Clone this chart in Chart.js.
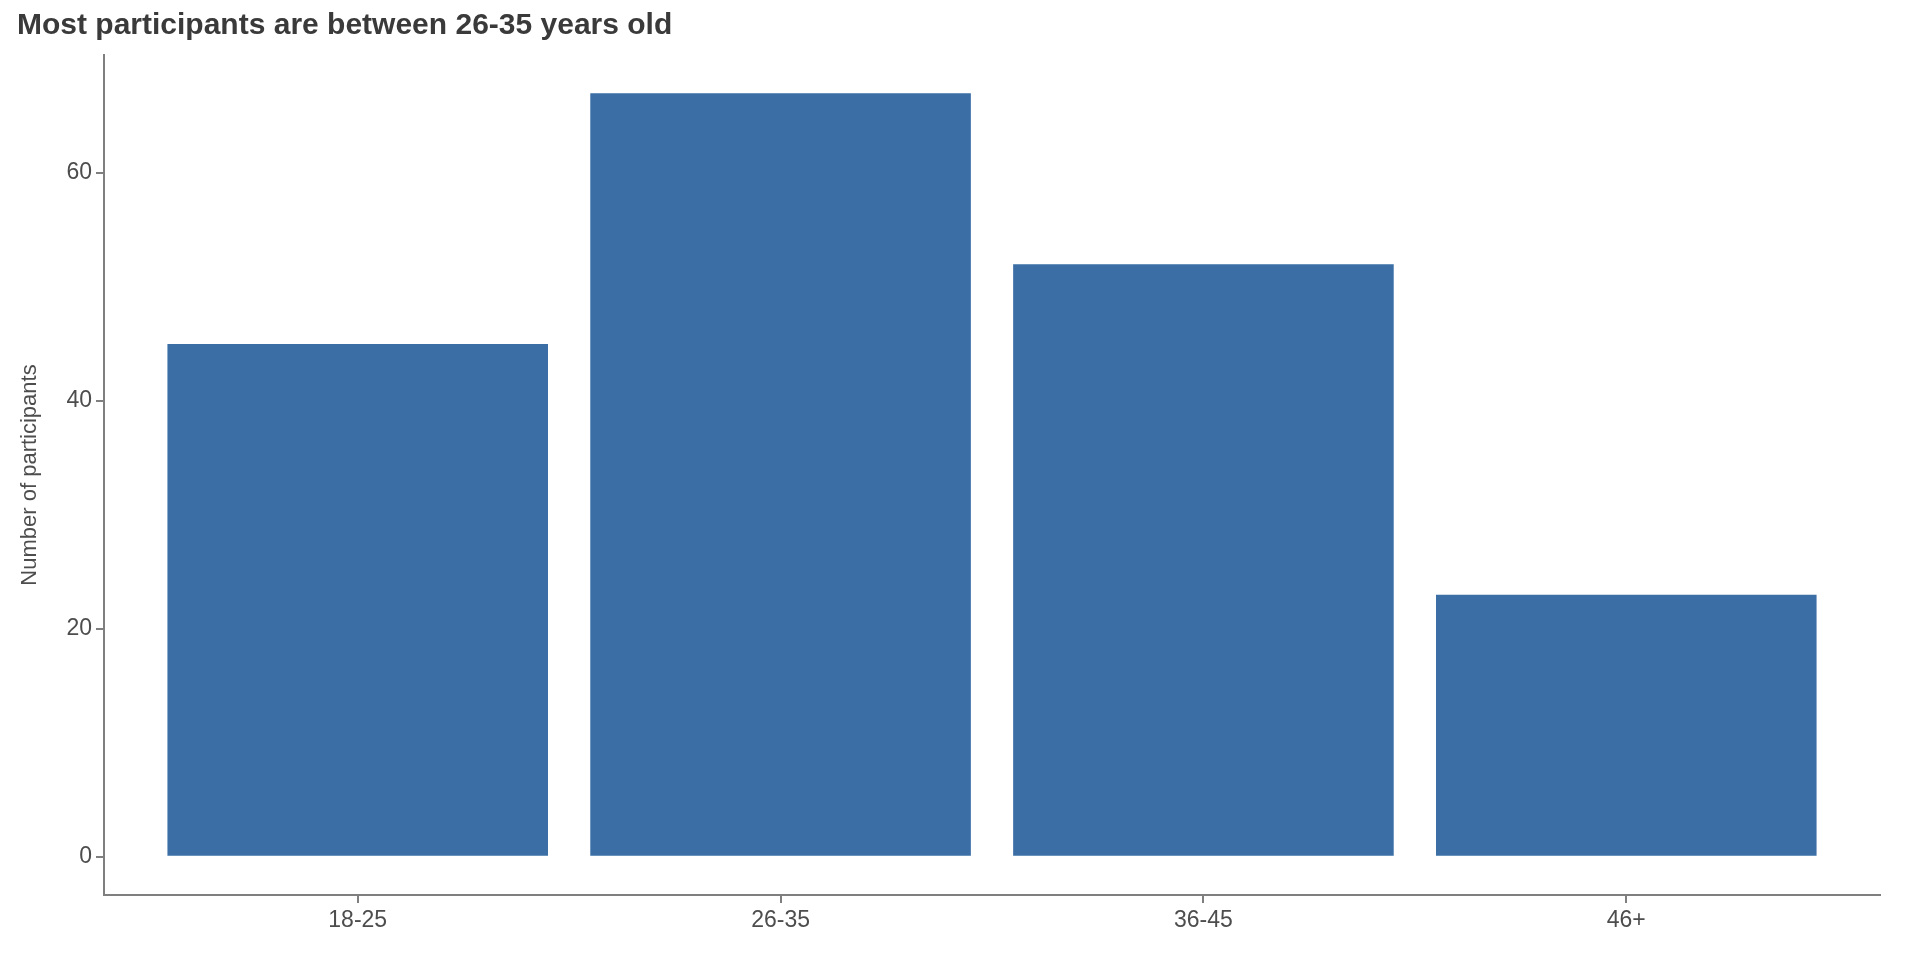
<!DOCTYPE html>
<html><head><meta charset="utf-8">
<script src="https://cdn.jsdelivr.net/npm/chart.js@4"></script>
<style>html,body{margin:0;padding:0;background:#fff}#w{width:1920px;height:960px}</style>
</head><body><div id="w"><canvas id="c"></canvas></div>
<script>
const categories = ["18-25","26-35","36-45","46+"];
const participants = [45,67,52,23];
const yTicks = [0,20,40,60];
const gray = '#7f7f7f';
new Chart(document.getElementById('c'), {
  type: 'bar',
  data: { datasets: [{ data: participants.map((v,i)=>({x:i+1,y:v})), backgroundColor:'#3a6ea5', barPercentage:0.9, categoryPercentage:1 }] },
  options: {
    responsive:true, maintainAspectRatio:false, animation:false,
    layout:{padding:{left:17,right:40,top:0,bottom:0}},
    plugins:{legend:{display:false},tooltip:{enabled:false},
      title:{display:true,text:'Most participants are between 26-35 years old',align:'start',color:'#3a3a3a',
        font:{family:'Liberation Sans, Arial',size:30,weight:'bold'},padding:{top:8,bottom:11}}},
    scales:{
      x:{type:'linear',min:0.4,max:4.6,offset:false,
        afterBuildTicks:s=>{s.ticks=categories.map((c,i)=>({value:i+1}));},
        afterFit:s=>{s.height=65;},
        ticks:{callback:(v)=>categories[v-1],color:'#4d4d4d',font:{family:'Liberation Sans, Arial',size:23},padding:4},
        grid:{offset:false,drawOnChartArea:false,tickLength:8,color:gray,lineWidth:2},
        border:{color:gray,width:2}},
      y:{min:-3.35,max:70.35,
        afterBuildTicks:s=>{s.ticks=yTicks.map(v=>({value:v}));},
        afterFit:s=>{s.width=87;},
        ticks:{color:'#4d4d4d',font:{family:'Liberation Sans, Arial',size:23},padding:4},
        title:{display:true,text:'Number of participants',color:'#4d4d4d',font:{family:'Liberation Sans, Arial',size:22},padding:0},
        grid:{drawOnChartArea:false,tickLength:8,color:gray,lineWidth:2},
        border:{color:gray,width:2}}
    }
  }
});
</script></body></html>
